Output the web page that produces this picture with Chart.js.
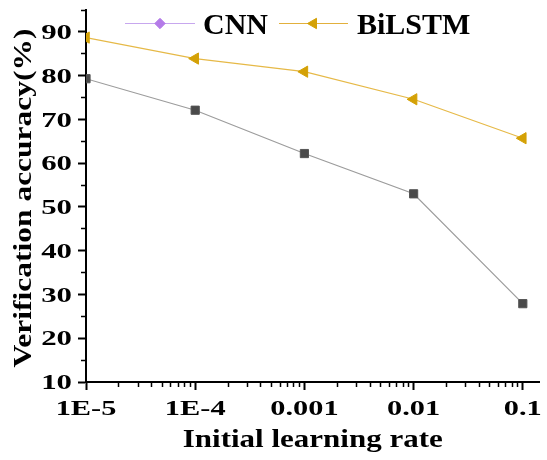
<!DOCTYPE html>
<html>
<head>
<meta charset="utf-8">
<script src="https://cdn.jsdelivr.net/npm/chart.js@4/dist/chart.umd.min.js"></script>
<style>
  html, body { margin: 0; padding: 0; background: #fff; }
  #wrap { width: 547px; height: 460px; position: relative; }
</style>
</head>
<body>
<div id="wrap"><canvas id="chart"></canvas></div>
<script>
// Learning-rate sweep: verification accuracy of the two models
const learningRates = [1e-5, 1e-4, 1e-3, 1e-2, 1e-1];
const rateLabels = ['1E-5', '1E-4', '0.001', '0.01', '0.1'];
const cnnAccuracy = [79.3, 72.1, 62.2, 53.0, 27.9];
const bilstmAccuracy = [88.7, 83.9, 80.9, 74.6, 65.7];
const seriesNames = ['CNN', 'BiLSTM'];
const yTickValues = [10, 20, 30, 40, 50, 60, 70, 80, 90];
const xTitle = 'Initial learning rate';
const yTitle = 'Verification accuracy(%)';

const SERIF = '"Liberation Serif", "Times New Roman", serif';

function toPoints(values) {
  return learningRates.map((x, i) => ({ x: x, y: values[i] }));
}

function isDecade(v) {
  const l = Math.log10(v);
  return Math.abs(l - Math.round(l)) < 1e-6;
}
function isMinorLog(v) {
  const s = v / Math.pow(10, Math.floor(Math.log10(v) + 1e-9));
  const r = Math.round(s);
  return r >= 2 && r <= 9 && Math.abs(s - r) < 1e-6;
}

// Text drawn with a horizontal stretch along its baseline
function drawStretched(ctx, text, x, y, sx, align, baseline, rot) {
  ctx.save();
  ctx.translate(x, y);
  ctx.rotate(rot || 0);
  ctx.scale(sx, 1);
  ctx.textAlign = align;
  ctx.textBaseline = baseline;
  ctx.fillText(text, 0, 0);
  ctx.restore();
}

const axisText = {
  id: 'axisText',
  afterDraw(chart) {
    const { ctx, chartArea } = chart;
    const xs = chart.scales.x, ys = chart.scales.y;
    ctx.save();
    ctx.fillStyle = '#000';
    ctx.font = 'bold 22px ' + SERIF;
    yTickValues.forEach(v => {
      drawStretched(ctx, String(v), 72, ys.getPixelForValue(v) + 1.5, 1.4, 'right', 'middle', 0);
    });
    learningRates.forEach((v, i) => {
      drawStretched(ctx, rateLabels[i], xs.getPixelForValue(v), 409, 1.38, 'center', 'middle', 0);
    });
    ctx.font = 'bold 25px ' + SERIF;
    drawStretched(ctx, xTitle, (chartArea.left + chartArea.right) / 2, 447, 1.24, 'center', 'alphabetic', 0);
    drawStretched(ctx, yTitle, 31, (chartArea.top + chartArea.bottom) / 2 + 2, 1.26, 'center', 'alphabetic', -Math.PI / 2);
    ctx.restore();
  }
};

// Legend: short line with a centred marker, then the series name
const legendKeys = [
  { line: '#c7a7ee', fill: '#b47be8', style: 'rectRot', radius: 5.2, rotation: 0, x0: 125, x1: 195, tx: 203 },
  { line: '#e2b03c', fill: '#d4a106', style: 'triangle', radius: 6, rotation: -90, x0: 279, x1: 348, tx: 357 }
];
const lineLegend = {
  id: 'lineLegend',
  afterDraw(chart) {
    const { ctx } = chart;
    const cy = 23.5;
    ctx.save();
    legendKeys.forEach((k, i) => {
      ctx.strokeStyle = k.line;
      ctx.lineWidth = 1.2;
      ctx.beginPath();
      ctx.moveTo(k.x0, cy);
      ctx.lineTo(k.x1, cy);
      ctx.stroke();
      ctx.fillStyle = k.fill;
      ctx.strokeStyle = k.fill;
      ctx.lineWidth = 1;
      Chart.helpers.drawPoint(ctx, { pointStyle: k.style, radius: k.radius, rotation: k.rotation, borderWidth: 1 }, (k.x0 + k.x1) / 2, cy);
      ctx.fillStyle = '#000';
      ctx.font = 'bold 30px ' + SERIF;
      ctx.textAlign = 'left';
      ctx.textBaseline = 'alphabetic';
      ctx.fillText(seriesNames[i], k.tx, 33.5);
    });
    ctx.restore();
  }
};

new Chart(document.getElementById('chart'), {
  type: 'line',
  data: {
    datasets: [
      {
        label: seriesNames[0],
        data: toPoints(cnnAccuracy),
        borderColor: '#9c9c9c',
        borderWidth: 1.2,
        pointStyle: 'rect',
        pointRadius: 5.8,
        pointBackgroundColor: '#4a4a4a',
        pointBorderColor: '#555555',
        pointBorderWidth: 1,
        tension: 0,
        clip: 0
      },
      {
        label: seriesNames[1],
        data: toPoints(bilstmAccuracy),
        borderColor: '#e6b947',
        borderWidth: 1.2,
        pointStyle: 'triangle',
        pointRotation: -90,
        pointRadius: 6.5,
        pointBackgroundColor: '#d4a106',
        pointBorderColor: '#d4a106',
        pointBorderWidth: 1,
        tension: 0,
        clip: 0
      }
    ]
  },
  options: {
    responsive: true,
    maintainAspectRatio: false,
    animation: false,
    devicePixelRatio: 1,
    layout: { padding: { top: 10, right: 0, bottom: 0, left: 0 } },
    plugins: { legend: { display: false }, tooltip: { enabled: false } },
    scales: {
      x: {
        type: 'logarithmic',
        min: 1e-5,
        max: 0.1422,
        afterFit(scale) { scale.height = 78; },
        ticks: { display: false },
        border: { display: true, color: '#000', width: 2 },
        grid: {
          drawOnChartArea: false,
          drawTicks: true,
          tickLength: 8,
          tickColor: c => (c.tick && (isDecade(c.tick.value) || isMinorLog(c.tick.value))) ? '#000' : 'rgba(0,0,0,0)',
          tickWidth: c => (c.tick && isDecade(c.tick.value)) ? 2 : 1.5,
          tickBorderDash: c => (c.tick && isDecade(c.tick.value)) ? [] : [4, 100]
        }
      },
      y: {
        type: 'linear',
        min: 10,
        max: 95,
        afterFit(scale) { scale.width = 86; },
        ticks: { display: false, stepSize: 5 },
        border: { display: true, color: '#000', width: 2 },
        grid: {
          drawOnChartArea: false,
          drawTicks: true,
          tickLength: 8,
          tickColor: '#000',
          tickWidth: c => (c.tick && c.tick.value % 10 === 0) ? 2 : 1.5,
          tickBorderDash: c => (c.tick && c.tick.value % 10 === 0) ? [] : [0, 3, 4, 100]
        }
      }
    }
  },
  plugins: [axisText, lineLegend]
});
</script>
</body>
</html>
